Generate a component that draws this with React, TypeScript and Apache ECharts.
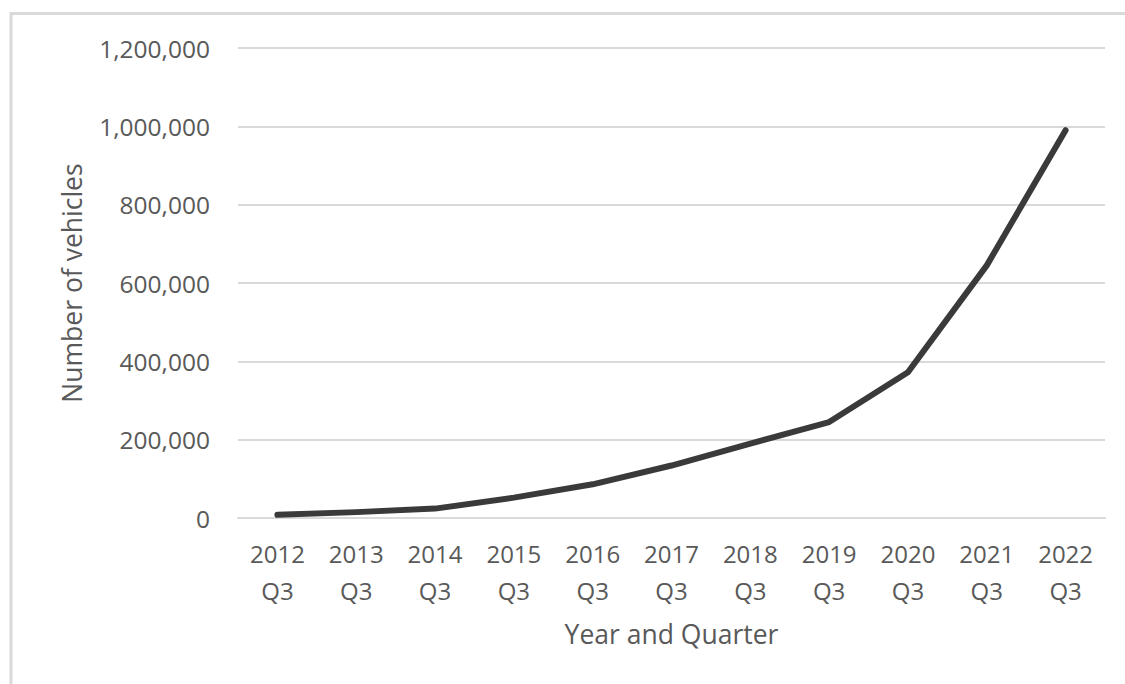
import React, { useEffect, useRef } from "react";
import * as echarts from "echarts";

const categories = [
  "2012\nQ3", "2013\nQ3", "2014\nQ3", "2015\nQ3", "2016\nQ3", "2017\nQ3",
  "2018\nQ3", "2019\nQ3", "2020\nQ3", "2021\nQ3", "2022\nQ3",
];
const vehicles = [8000, 15000, 24000, 52000, 86000, 134000, 190000, 245000, 372000, 645000, 990000];
const yTicks = { min: 0, max: 1200000, interval: 200000 };

const FONT = "'Open Sans', sans-serif";
const TEXT = "#595959";
const GRID = "#d9d9d9";

export default function App() {
  const ref = useRef<HTMLDivElement>(null);
  useEffect(() => {
    document.body.style.margin = "0";
    const chart = echarts.init(ref.current!, null, { renderer: "svg" });
    chart.setOption({
      animation: false,
      backgroundColor: "#ffffff",
      textStyle: { fontFamily: FONT },
      graphic: [
        {
          type: "rect",
          shape: { x: 11, y: 13.5, width: 1300, height: 900 },
          style: { fill: "none", stroke: GRID, lineWidth: 3 },
          silent: true,
          z: -1,
        },
      ],
      grid: { left: 238, right: 20, top: 48, bottom: 166, containLabel: false },
      xAxis: {
        type: "category",
        data: categories,
        boundaryGap: true,
        axisLine: { show: true, lineStyle: { color: GRID, width: 2 } },
        axisTick: { show: false },
        axisLabel: { color: TEXT, fontSize: 24, fontFamily: FONT, lineHeight: 37, margin: 17, interval: 0 },
        name: "Year and Quarter",
        nameLocation: "middle",
        nameGap: 102,
        nameTextStyle: { color: TEXT, fontSize: 26.5, fontFamily: FONT },
      },
      yAxis: {
        type: "value",
        min: yTicks.min,
        max: yTicks.max,
        interval: yTicks.interval,
        axisLine: { show: false },
        axisTick: { show: false },
        splitLine: { show: true, lineStyle: { color: GRID, width: 2 } },
        axisLabel: {
          color: TEXT,
          fontSize: 24.5,
          fontFamily: FONT,
          margin: 28,
          formatter: (v: number) => v.toLocaleString("en-US"),
        },
        name: "Number of vehicles",
        nameLocation: "middle",
        nameGap: 153,
        nameTextStyle: { color: TEXT, fontSize: 26.5, fontFamily: FONT },
      },
      series: [
        {
          type: "line",
          data: vehicles,
          showSymbol: false,
          symbol: "none",
          lineStyle: { color: "#3a3a3a", width: 6, cap: "round", join: "round" },
        },
      ],
    });
    return () => chart.dispose();
  }, []);
  return <div ref={ref} style={{ position: "absolute", left: 0, top: 0, width: 1125, height: 684 }} />;
}
